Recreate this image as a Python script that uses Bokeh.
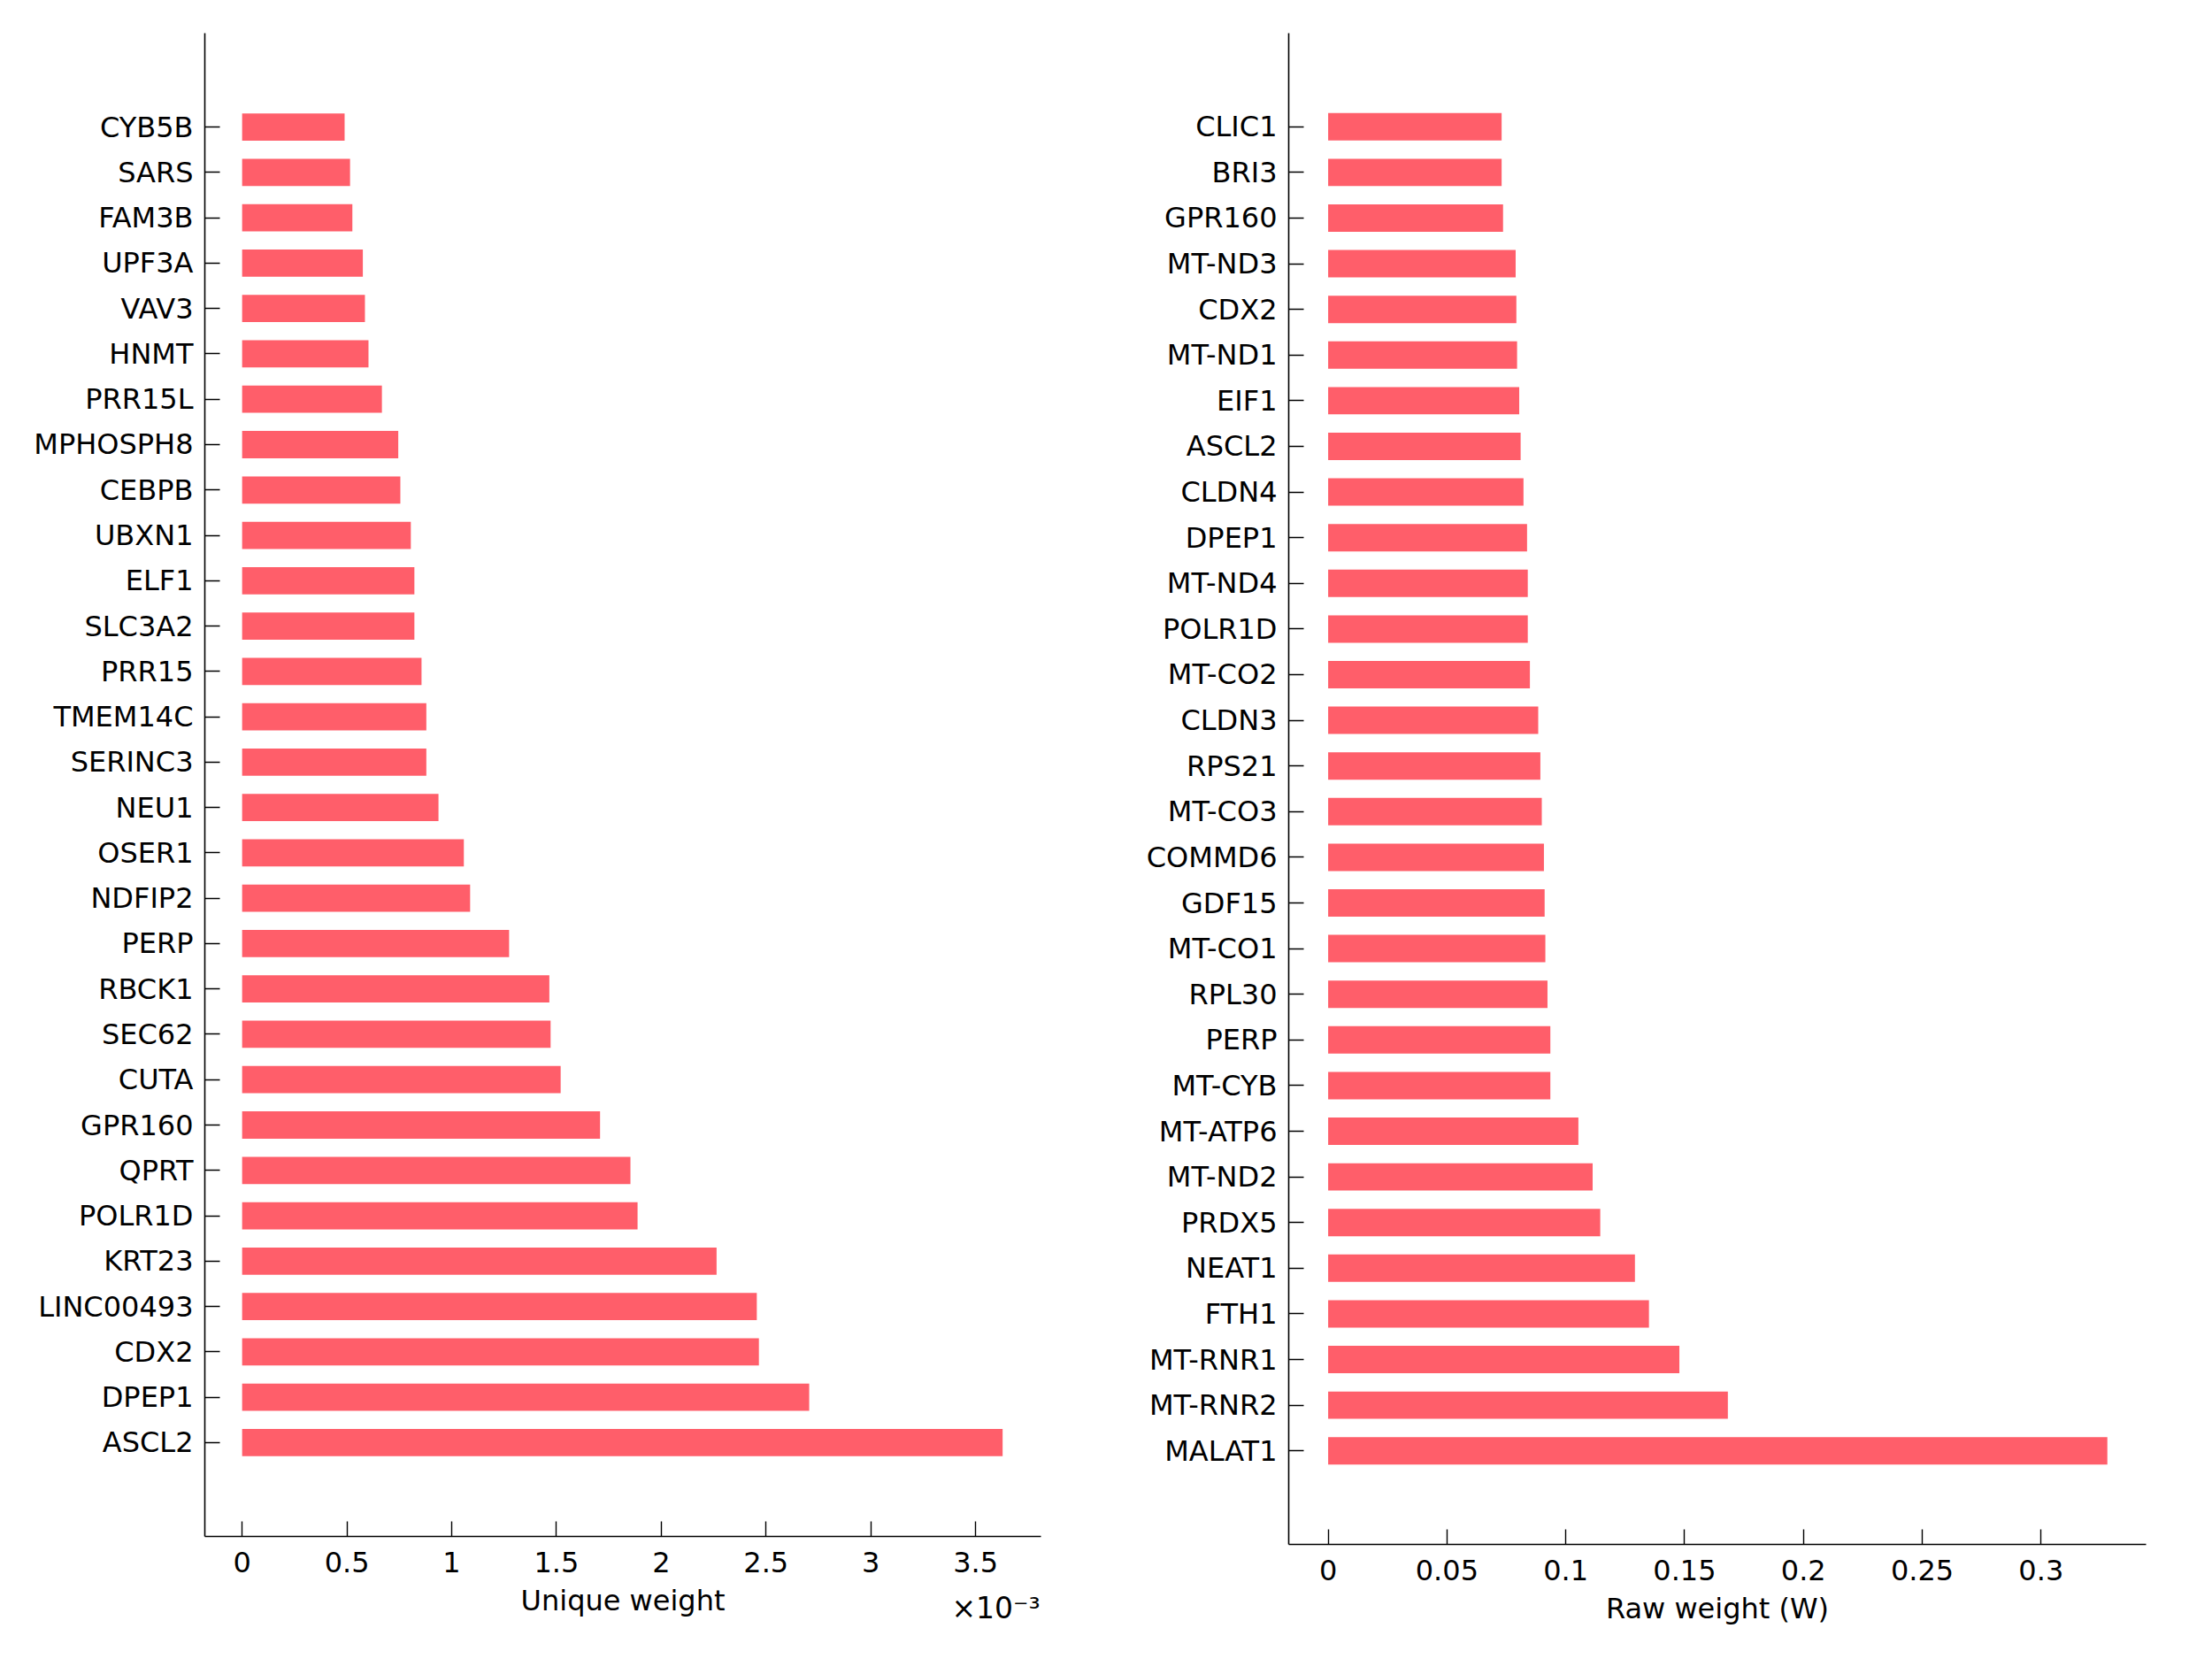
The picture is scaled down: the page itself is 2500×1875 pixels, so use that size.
from bokeh.plotting import figure
from bokeh.layouts import row
from bokeh.models import (ColumnDataSource, Range1d, FixedTicker, CustomJSTickFormatter,
                          LinearAxis)
from bokeh.embed import file_html
from bokeh.resources import INLINE

# ---------------- data (top to bottom as shown) ----------------
left_genes = ["CYB5B", "SARS", "FAM3B", "UPF3A", "VAV3", "HNMT", "PRR15L", "MPHOSPH8",
              "CEBPB", "UBXN1", "ELF1", "SLC3A2", "PRR15", "TMEM14C", "SERINC3", "NEU1",
              "OSER1", "NDFIP2", "PERP", "RBCK1", "SEC62", "CUTA", "GPR160", "QPRT",
              "POLR1D", "KRT23", "LINC00493", "CDX2", "DPEP1", "ASCL2"]
left_vals = [0.489e-3, 0.515e-3, 0.526e-3, 0.576e-3, 0.586e-3, 0.603e-3, 0.667e-3, 0.745e-3,
             0.755e-3, 0.805e-3, 0.822e-3, 0.822e-3, 0.856e-3, 0.879e-3, 0.879e-3, 0.937e-3,
             1.058e-3, 1.088e-3, 1.274e-3, 1.466e-3, 1.472e-3, 1.520e-3, 1.708e-3, 1.853e-3,
             1.887e-3, 2.264e-3, 2.456e-3, 2.466e-3, 2.706e-3, 3.629e-3]
left_xticks = [0, 0.5e-3, 1.0e-3, 1.5e-3, 2.0e-3, 2.5e-3, 3.0e-3, 3.5e-3]
left_exponent = "\u00d710\u207b\u00b3"   # x10^-3 multiplier shown under the axis end

right_genes = ["CLIC1", "BRI3", "GPR160", "MT-ND3", "CDX2", "MT-ND1", "EIF1", "ASCL2",
               "CLDN4", "DPEP1", "MT-ND4", "POLR1D", "MT-CO2", "CLDN3", "RPS21", "MT-CO3",
               "COMMD6", "GDF15", "MT-CO1", "RPL30", "PERP", "MT-CYB", "MT-ATP6", "MT-ND2",
               "PRDX5", "NEAT1", "FTH1", "MT-RNR1", "MT-RNR2", "MALAT1"]
right_vals = [0.0730, 0.0730, 0.0736, 0.0789, 0.0792, 0.0795, 0.0804, 0.0810,
              0.0822, 0.0837, 0.0840, 0.0840, 0.0849, 0.0884, 0.0893, 0.0899,
              0.0908, 0.0911, 0.0914, 0.0923, 0.0935, 0.0935, 0.1053, 0.1113,
              0.1145, 0.1291, 0.1350, 0.1478, 0.1682, 0.3279]
right_xticks = [0, 0.05, 0.1, 0.15, 0.2, 0.25, 0.3]

BAR = "#FF5E6A"
FONT = "DejaVu Sans"
FS = "32px"


def style_axis(ax):
    ax.major_tick_in = 17
    ax.major_tick_out = 0
    ax.minor_tick_in = 0
    ax.minor_tick_out = 0
    ax.axis_line_color = "black"
    ax.axis_line_width = 1.6
    ax.major_tick_line_color = "black"
    ax.major_tick_line_width = 1.4
    ax.major_label_text_font = FONT
    ax.major_label_text_font_size = FS
    ax.major_label_text_color = "black"
    ax.axis_label_text_font = FONT
    ax.axis_label_text_font_size = FS
    ax.axis_label_text_font_style = "normal"
    ax.axis_label_text_color = "black"


def make_panel(genes, vals, xticks, xr, ypad, xlabel, fmt_js, frame_w, frame_h,
               bl, bt, br, bb):
    n = len(genes)
    ypos = list(range(n - 1, -1, -1))  # top item gets highest position
    src = ColumnDataSource(dict(y=ypos, v=vals, g=genes))
    p = figure(frame_width=frame_w, frame_height=frame_h,
               x_range=Range1d(*xr), y_range=Range1d(-ypad, n - 1 + ypad),
               output_backend="svg", toolbar_location=None,
               min_border_left=bl, min_border_top=bt, min_border_right=br,
               min_border_bottom=bb)
    p.hbar(y="y", left=0, right="v", height=0.6, source=src,
           fill_color=BAR, line_color=None)
    p.outline_line_color = None
    p.xgrid.visible = False
    p.ygrid.visible = False
    p.background_fill_color = "white"
    p.border_fill_color = "white"

    xa = p.xaxis[0]
    xa.ticker = FixedTicker(ticks=xticks, minor_ticks=[])
    xa.formatter = CustomJSTickFormatter(code=fmt_js)
    xa.axis_label = xlabel
    ya = p.yaxis[0]
    ya.ticker = FixedTicker(ticks=ypos, minor_ticks=[])
    ya.major_label_overrides = {int(y): g for y, g in zip(ypos, genes)}
    style_axis(xa)
    style_axis(ya)
    xa.major_label_standoff = 17
    xa.axis_label_standoff = 10
    ya.major_label_standoff = 13
    return p


LPAD = 2.07
LXR = (-0.178e-3, 3.812e-3)
p1 = make_panel(left_genes, left_vals, left_xticks, LXR, LPAD,
                None,
                "return parseFloat((tick*1000).toFixed(3)).toString();",
                945, 1699, 231, 36, 113, 140)

# second (label-only) bottom axis: carries the axis title and the x10^-3 multiplier
exp_axis = LinearAxis(ticker=FixedTicker(ticks=[3.597e-3], minor_ticks=[]),
                      formatter=CustomJSTickFormatter(code="return %r;" % left_exponent),
                      axis_label="Unique weight")
style_axis(exp_axis)
exp_axis.axis_line_color = None
exp_axis.major_tick_in = 0
exp_axis.major_tick_out = 0
exp_axis.major_label_text_font_size = "33px"
exp_axis.major_label_standoff = 18
exp_axis.axis_label_standoff = -50
p1.add_layout(exp_axis, "below")

p2 = make_panel(right_genes, right_vals, right_xticks, (-0.0166, 0.3442), 2.05,
                "Raw weight (W)",
                "return parseFloat(tick.toFixed(4)).toString();",
                969, 1708, 167, 37, 40, 130)

layout = row(p1, p2)
open("out.html", "w").write(file_html(layout, INLINE))
